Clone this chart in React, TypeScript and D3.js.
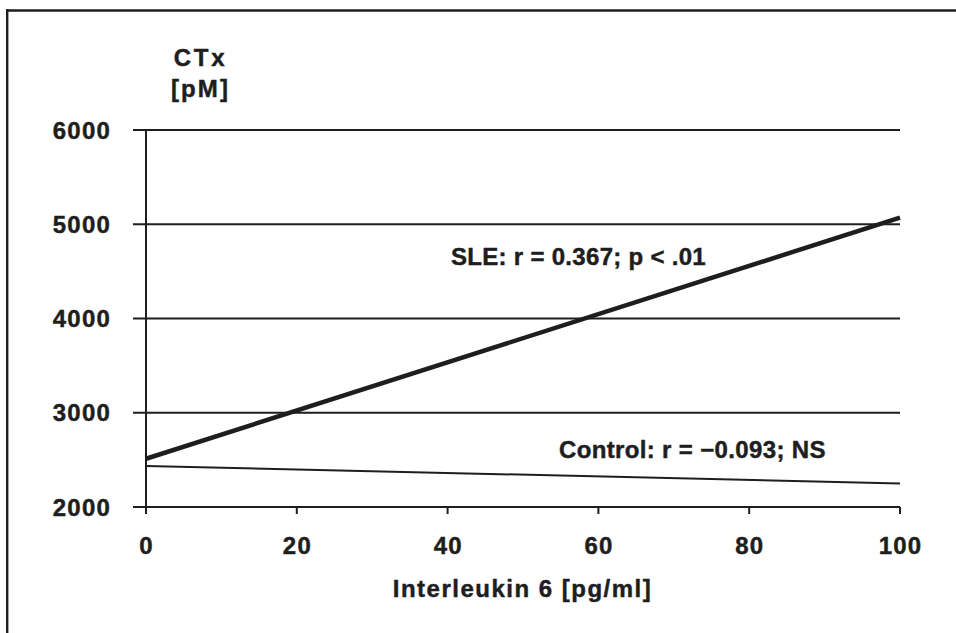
import React from "react";
import * as d3 from "d3";

const xTicks = [0, 20, 40, 60, 80, 100];
const yTicks = [2000, 3000, 4000, 5000, 6000];
const seriesNames = ["SLE", "Control"];
const sleX = [0, 100];
const sleY = [2512, 5070];
const controlX = [0, 100];
const controlY = [2435, 2250];
const sleLabel = "SLE: r = 0.367; p < .01";
const controlLabel = "Control: r = \u22120.093; NS";
const xTitle = "Interleukin 6 [pg/ml]";
const yTitle = ["CTx", "[pM]"];

const W = 956;
const H = 633;
const font = "'Liberation Sans', Arial, Helvetica, sans-serif";

export default function App() {
  const x = d3.scaleLinear().domain([0, 100]).range([146, 900]);
  const y = d3.scaleLinear().domain([2000, 6000]).range([507, 130]);
  const line = d3
    .line<[number, number]>()
    .x((d) => x(d[0]))
    .y((d) => y(d[1]));
  const slePts: [number, number][] = sleX.map((v, i) => [v, sleY[i]]);
  const ctlPts: [number, number][] = controlX.map((v, i) => [v, controlY[i]]);
  const c = "#1e1e1e";
  const ts = { fontSize: 24, fill: c, stroke: c, strokeWidth: 0.45 };

  return (
    <svg
      width={W}
      height={H}
      style={{ position: "absolute", left: 0, top: 0, background: "#fff" }}
      fontFamily={font}
      fontWeight="bold"
    >
      <rect x={0} y={0} width={W} height={H} fill="#fff" />
      {/* frame */}
      <line x1={7.2} x2={W} y1={10.5} y2={10.5} stroke={c} strokeWidth={2.7} />
      <line x1={7.2} x2={7.2} y1={9} y2={H} stroke={c} strokeWidth={2.4} />

      {/* grid lines */}
      {yTicks.map((t) => (
        <line key={t} x1={133} x2={x(100)} y1={y(t)} y2={y(t)} stroke={c} strokeWidth={2} />
      ))}
      {/* y axis */}
      <line x1={x(0)} x2={x(0)} y1={y(6000)} y2={y(2000) + 7} stroke={c} strokeWidth={2} />
      {/* x ticks */}
      {xTicks.map((t) => (
        <line key={t} x1={x(t)} x2={x(t)} y1={y(2000)} y2={y(2000) + 7} stroke={c} strokeWidth={2} />
      ))}

      {/* y tick labels */}
      {yTicks.map((t) => (
        <text key={t} x={111} y={y(t) + 8.5} textAnchor="end" letterSpacing={1.2} {...ts}>
          {t}
        </text>
      ))}
      {/* x tick labels */}
      {xTicks.map((t) => (
        <text key={t} x={x(t) + 0.6} y={553.5} textAnchor="middle" letterSpacing={1.2} {...ts}>
          {t}
        </text>
      ))}

      {/* series */}
      <path d={line(slePts) || ""} stroke={c} strokeWidth={4.5} fill="none" />
      <path d={line(ctlPts) || ""} stroke={c} strokeWidth={2} fill="none" />

      <text x={451} y={265} letterSpacing={0.3} {...ts}>
        {sleLabel}
      </text>
      <text x={559} y={457.5} letterSpacing={0.35} {...ts}>
        {controlLabel}
      </text>

      {/* titles */}
      <text x={522.5} y={597} textAnchor="middle" letterSpacing={1.5} {...ts}>
        {xTitle}
      </text>
      <text x={200.5} y={66} textAnchor="middle" letterSpacing={2.8} {...ts}>
        {yTitle[0]}
      </text>
      <text x={200.5} y={97} textAnchor="middle" letterSpacing={2.1} {...ts}>
        {yTitle[1]}
      </text>
      <title>{seriesNames.join(", ")}</title>
    </svg>
  );
}
